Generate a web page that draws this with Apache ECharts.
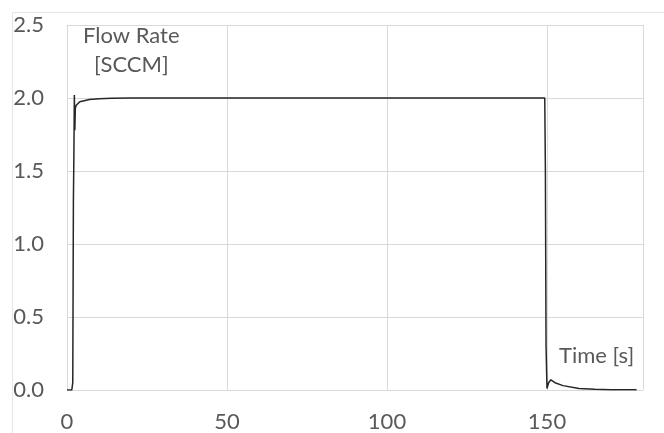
<!DOCTYPE html>
<html>
<head>
<meta charset="utf-8">
<script src="https://cdn.jsdelivr.net/npm/echarts@6/dist/echarts.min.js"></script>
<style>
html,body{margin:0;padding:0;background:#fff;}
#c{width:664px;height:433px;}
</style>
</head>
<body>
<div id="c"></div>
<script>
const timeS = [0, 1.5, 1.8, 2.0, 2.15, 2.3, 2.45, 2.6, 2.9, 3.3, 4, 5, 7, 10, 14, 20, 30, 50, 80, 110, 140, 149.3, 149.5, 149.7, 150.0, 150.5, 151.2, 152.5, 155, 160, 165, 170, 178];
const flowRate = [0, 0, 0.05, 1.3, 1.6, 2.02, 1.78, 1.93, 1.95, 1.96, 1.975, 1.98, 1.99, 1.995, 1.998, 2.0, 2.0, 2.0, 2.0, 2.0, 2.0, 2.0, 1.5, 0.3, 0.01, 0.05, 0.07, 0.05, 0.03, 0.01, 0.005, 0.002, 0.002];
const xTicks = [0, 50, 100, 150];
const yTicks = ['0.0', '0.5', '1.0', '1.5', '2.0', '2.5'];
const yLabel = ['Flow Rate', '[SCCM]'];
const xLabel = 'Time [s]';

const chart = echarts.init(document.getElementById('c'));
const fontFam = 'Lato, "Open Sans", sans-serif';
const txtColor = '#595959';
chart.setOption({
  animation: false,
  grid: {left: 67, right: 21, top: 25, bottom: 43},
  xAxis: {
    type: 'value', min: 0, max: 180, interval: 50,
    axisLine: {show: false}, axisTick: {show: false},
    splitLine: {lineStyle: {color: '#d9d9d9', width: 1}},
    axisLabel: {color: txtColor, fontSize: 22, fontFamily: fontFam, margin: 21,
      formatter: v => xTicks.indexOf(v) >= 0 ? String(v) : ''}
  },
  yAxis: {
    type: 'value', min: 0, max: 2.5, interval: 0.5,
    axisLine: {show: false}, axisTick: {show: false},
    splitLine: {lineStyle: {color: '#d9d9d9', width: 1}},
    axisLabel: {color: txtColor, fontSize: 22, fontFamily: fontFam, margin: 23,
      formatter: v => yTicks[Math.round(v / 0.5)]}
  },
  graphic: [
    {type: 'rect', left: 10, top: 10, shape: {width: 700, height: 500},
      style: {fill: 'none', stroke: '#e6e6e6', lineWidth: 1}, silent: true, z: -1},
    {type: 'text', left: 83, top: 25, style: {text: yLabel[0], fill: txtColor, font: '22px ' + fontFam}},
    {type: 'text', left: 94, top: 54, style: {text: yLabel[1], fill: txtColor, font: '22px ' + fontFam}},
    {type: 'text', left: 559, top: 345, style: {text: xLabel, fill: txtColor, font: '22px ' + fontFam}}
  ],
  series: [{
    type: 'line', showSymbol: false, symbol: 'none',
    data: timeS.map((t, i) => [t, flowRate[i]]),
    lineStyle: {color: '#262626', width: 1.5}
  }]
});
</script>
</body>
</html>
